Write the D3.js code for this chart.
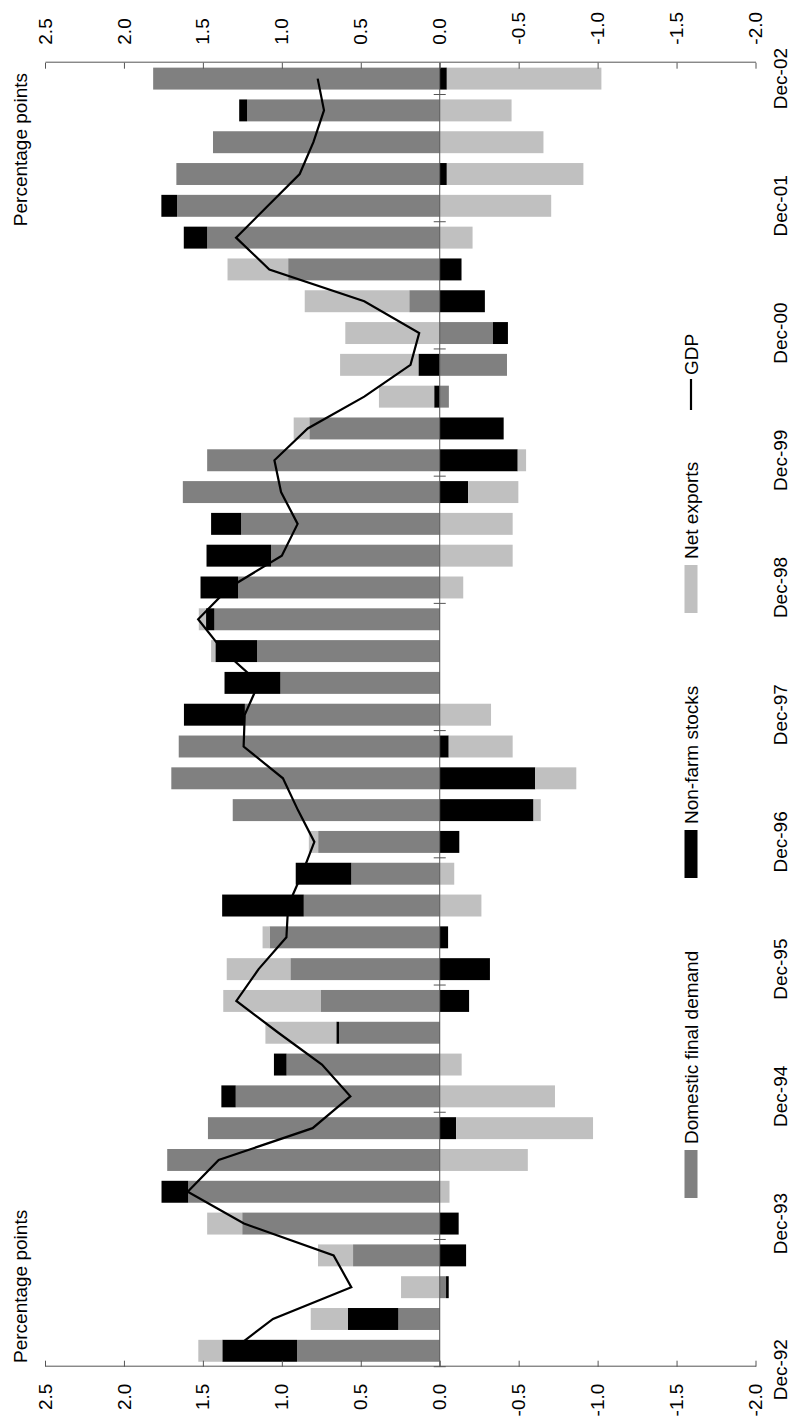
<!DOCTYPE html>
<html>
<head>
<meta charset="utf-8">
<script src="https://cdn.jsdelivr.net/npm/d3@7"></script>
<style>
  body { margin: 0; background: #fff; }
  text { font-family: Arial, "Liberation Sans", sans-serif; fill: #000; }
</style>
</head>
<body>
<svg id="chart" width="798" height="1424"></svg>
<script>
// ------------------------------------------------------------------ //
// Data (quarterly, Dec-92 .. Dec-02), percentage points

var quarters = [];
['92','93','94','95','96','97','98','99','00','01','02'].forEach((yy, i) => {
  if (i > 0) { quarters.push('Mar-'+yy, 'Jun-'+yy, 'Sep-'+yy); }
  quarters.push('Dec-'+yy);
});

var domesticDemand = [0.904, 0.262, -0.04, 0.549, 1.251, 1.593, 1.726, 1.468, 1.292, 0.97,
  0.638, 0.755, 0.946, 1.078, 0.861, 0.56, 0.77, 1.311, 1.70, 1.653,
  1.234, 1.009, 1.157, 1.427, 1.277, 1.068, 1.258, 1.627, 1.473, 0.826,
  -0.058, -0.426, -0.337, 0.193, 0.96, 1.473, 1.664, 1.668, 1.436, 1.22, 1.815];

var nonFarmStocks = [0.473, 0.319, -0.017, -0.167, -0.12, 0.169, 0, -0.104, 0.091, 0.08,
  0.017, -0.186, -0.318, -0.053, 0.517, 0.352, -0.124, -0.594, -0.605, -0.057,
  0.386, 0.354, 0.264, 0.053, 0.238, 0.409, 0.19, -0.18, -0.494, -0.405,
  0.035, 0.135, -0.095, -0.286, -0.138, 0.148, 0.099, -0.045, 0, 0.05, -0.045];

var netExports = [0.152, 0.236, 0.245, 0.222, 0.222, -0.062, -0.558, -0.867, -0.73, -0.139,
  0.449, 0.616, 0.403, 0.044, -0.264, -0.092, 0.059, -0.046, -0.26, -0.405,
  -0.325, 0, 0.027, 0.046, -0.149, -0.462, -0.462, -0.318, -0.053, 0.099,
  0.35, 0.496, 0.598, 0.662, 0.384, -0.208, -0.706, -0.865, -0.657, -0.455, -0.979];

var gdp = [1.32, 1.056, 0.56, 0.672, 1.24, 1.596, 1.40, 0.805, 0.566, 0.746,
  1.022, 1.288, 1.147, 0.971, 0.96, 0.872, 0.794, 0.898, 0.993, 1.242,
  1.235, 1.145, 1.37, 1.53, 1.332, 1.0, 0.90, 1.005, 1.047, 0.836,
  0.478, 0.185, 0.13, 0.478, 1.079, 1.29, 1.088, 0.887, 0.80, 0.733, 0.773];

var seriesNames = ['Domestic final demand', 'Non-farm stocks', 'Net exports'];
var seriesColors = ['#808080', '#000000', '#c0c0c0'];
var valueTicks = [2.5, 2.0, 1.5, 1.0, 0.5, 0.0, -0.5, -1.0, -1.5, -2.0];

// ------------------------------------------------------------------ //
// Setup: chart is drawn upright (W x H) and turned -90 degrees

var W = 1424, H = 798;
var plot = { left: 57.3, right: 1361.3, top: 45, bottom: 755.5 };
var axisColor = '#555';

var svg = d3.select('#chart');
var g = svg.append('g').attr('transform', 'translate(0,'+W+') rotate(-90)');

var x = d3.scaleBand().domain(quarters).range([plot.left, plot.right])
  .paddingInner(0.31).paddingOuter(0.155);
var y = d3.scaleLinear().domain([-2, 2.5]).range([plot.bottom, plot.top]);

var rows = quarters.map((q, i) => ({ q: q, dfd: domesticDemand[i], stk: nonFarmStocks[i], nx: netExports[i] }));
var stack = d3.stack().keys(['dfd', 'stk', 'nx']).offset(d3.stackOffsetDiverging);
var layers = stack(rows);

// ------------------------------------------------------------------ //
// Bars

g.selectAll('g.layer').data(layers).join('g')
  .attr('class', 'layer')
  .attr('fill', (d, i) => seriesColors[i])
  .selectAll('rect').data(d => d).join('rect')
    .attr('x', d => x(d.data.q))
    .attr('width', x.bandwidth())
    .attr('y', d => y(Math.max(d[0], d[1])))
    .attr('height', d => Math.abs(y(d[0]) - y(d[1])));

// ------------------------------------------------------------------ //
// Axes

var fmt = d => d.toFixed(1);

var leftAxis = g.append('g').attr('transform', 'translate('+plot.left+',0)')
  .call(d3.axisLeft(y).tickValues(valueTicks).tickFormat(fmt).tickSizeInner(-6).tickSizeOuter(0).tickPadding(17));
var rightAxis = g.append('g').attr('transform', 'translate('+plot.right+',0)')
  .call(d3.axisRight(y).tickValues(valueTicks).tickFormat(fmt).tickSizeInner(-6).tickSizeOuter(0).tickPadding(18));

[leftAxis, rightAxis].forEach(a => {
  a.select('.domain').attr('stroke', axisColor);
  a.selectAll('.tick line').attr('stroke', axisColor);
  a.selectAll('.tick text').attr('font-size', 19).attr('font-family', null);
});

// category axis along zero
var zeroY = y(0);
g.append('line')
  .attr('x1', plot.left).attr('x2', plot.right)
  .attr('y1', zeroY).attr('y2', zeroY)
  .attr('stroke', axisColor);

var decQuarters = quarters.filter(q => q.startsWith('Dec'));
var gap = x.step() - x.bandwidth();

g.selectAll('line.cat-tick').data(decQuarters).join('line')
  .attr('class', 'cat-tick')
  .attr('x1', d => x(d) - gap/2).attr('x2', d => x(d) - gap/2)
  .attr('y1', zeroY - 6).attr('y2', zeroY + 6)
  .attr('stroke', axisColor);

// first label sits on the axis edge, the rest on their bar
g.selectAll('text.cat-label').data(decQuarters).join('text')
  .attr('class', 'cat-label')
  .attr('x', (d, i) => i === 0 ? plot.left - 3 : x(d) + x.bandwidth()/2)
  .attr('y', 787)
  .attr('text-anchor', 'middle')
  .attr('font-size', 19)
  .text(d => d);

// ------------------------------------------------------------------ //
// GDP line

var line = d3.line().x(d => x(d.q) + x.bandwidth()/2).y(d => y(d.v));
g.append('path')
  .datum(quarters.map((q, i) => ({ q: q, v: gdp[i] })))
  .attr('d', line)
  .attr('fill', 'none')
  .attr('stroke', '#000')
  .attr('stroke-width', 2.2)
  .attr('stroke-linejoin', 'miter');

// ------------------------------------------------------------------ //
// Titles

g.append('text').attr('x', 61).attr('y', 27).attr('font-size', 19).text('Percentage points');
g.append('text').attr('x', 1351).attr('y', 27).attr('text-anchor', 'end').attr('font-size', 19).text('Percentage points');

// ------------------------------------------------------------------ //
// Legend

var legendY = 691;
var legendX = [226, 546, 811, 1014];
var legend = g.append('g');

seriesNames.forEach((name, i) => {
  legend.append('rect')
    .attr('x', legendX[i]).attr('y', legendY - 6.5)
    .attr('width', 48).attr('height', 13)
    .attr('fill', seriesColors[i]);
  legend.append('text')
    .attr('x', legendX[i] + 54).attr('y', legendY + 7)
    .attr('font-size', 19)
    .text(name);
});

legend.append('line')
  .attr('x1', legendX[3]).attr('x2', legendX[3] + 31)
  .attr('y1', legendY).attr('y2', legendY)
  .attr('stroke', '#000').attr('stroke-width', 2.2);
legend.append('text')
  .attr('x', legendX[3] + 35).attr('y', legendY + 7)
  .attr('font-size', 19)
  .text('GDP');
</script>
</body>
</html>
